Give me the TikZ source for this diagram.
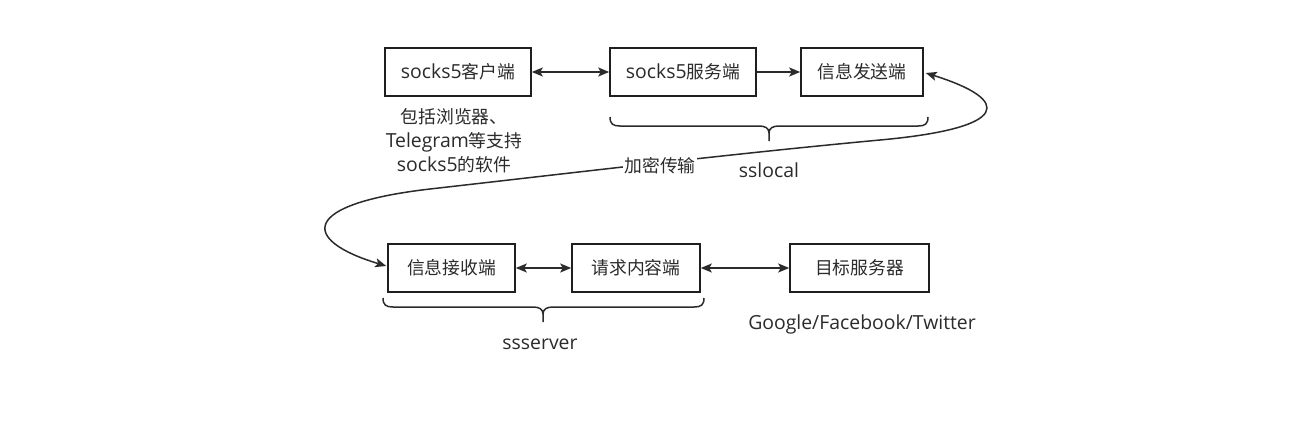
\documentclass[tikz,border=0pt]{standalone}
\usepackage{fontspec}
\setmainfont{Open Sans}
\newfontfamily\cjkfont{Noto Sans CJK SC}
\usetikzlibrary{arrows.meta,calc}
\definecolor{ink}{HTML}{2B2B2B}
\newcommand\zhtxt[1]{{\cjkfont\fontsize{17.8}{24}\selectfont #1}}
\begin{document}
\begin{tikzpicture}[x=1pt,y=-1pt,
  lbl/.style={text=ink, inner sep=0pt, font=\fontsize{19.4}{24}\selectfont},
  box/.style={lbl, draw=black!88, line width=1.6pt, minimum height=48pt},
  tipstyle/.style={Stealth[length=11pt,width=9pt,inset=2.5pt]},
  conn/.style={draw=ink, line width=1.5pt, {Stealth[length=11pt,width=9pt,inset=2.5pt]}-{Stealth[length=11pt,width=9pt,inset=2.5pt]}},
  conn1/.style={draw=ink, line width=1.5pt, -{Stealth[length=11pt,width=9pt,inset=2.5pt]}},
  bracestyle/.style={draw=ink, line width=1.5pt}
]
\fill[white] (0,0) rectangle (1309,428);
\useasboundingbox (0,0) rectangle (1309,428);

\node[box, minimum width=146pt] (A) at (458,72) {socks5\zhtxt{客户端}};
\node[box, minimum width=146pt] (B) at (683,72) {socks5\zhtxt{服务端}};
\node[box, minimum width=122pt] (C) at (862,72) {\zhtxt{信息发送端}};
\node[box, minimum width=127pt] (D) at (451.5,268) {\zhtxt{信息接收端}};
\node[box, minimum width=128pt] (E) at (636,268) {\zhtxt{请求内容端}};
\node[box, minimum width=139pt] (F) at (859.5,268) {\zhtxt{目标服务器}};

\node[lbl, align=center] (note) at (454,141) {\zhtxt{包括浏览器、}\\Telegram\zhtxt{等支持}\\socks5\zhtxt{的软件}};
\node[lbl] (sslocal) at (769,170) {sslocal};
\node[lbl] (ssserver) at (540,344) {ssserver};
\node[lbl] (targets) at (862,324) {Google/Facebook/Twitter};

\draw[conn] (A) -- (B);
\draw[conn1] (B) -- (C);
\draw[conn] (D) -- (E);
\draw[conn] (E) -- (F);

\coordinate (cs) at ($(C.east)+(2,1)$);
\coordinate (ce) at ($(D.west)+(-1,-2)$);
\draw[conn] (cs) .. controls (1012,100) and (1012,128) .. (880,140)
  .. controls (730,154) and (580,172) .. (430,189)
  .. controls (300,204) and (300,240) .. (ce);
\node[lbl, fill=white, inner sep=1pt] (enc) at (660,166) {\zhtxt{加密传输}};

% braces
\draw[bracestyle] (610,117) .. controls (610,124) and (613,126) .. (620,126) -- (759,126)
  .. controls (765,126) and (769,128) .. (769,133) -- (769,141);
\draw[bracestyle] (928,117) .. controls (928,124) and (925,126) .. (918,126) -- (779,126)
  .. controls (773,126) and (769,128) .. (769,133);
\draw[bracestyle] (383,298) .. controls (383,305) and (386,307) .. (393,307) -- (533,307)
  .. controls (539,307) and (543,309) .. (543,314) -- (543,322);
\draw[bracestyle] (704,298) .. controls (704,305) and (701,307) .. (694,307) -- (553,307)
  .. controls (547,307) and (543,309) .. (543,314);
\end{tikzpicture}
\end{document}
